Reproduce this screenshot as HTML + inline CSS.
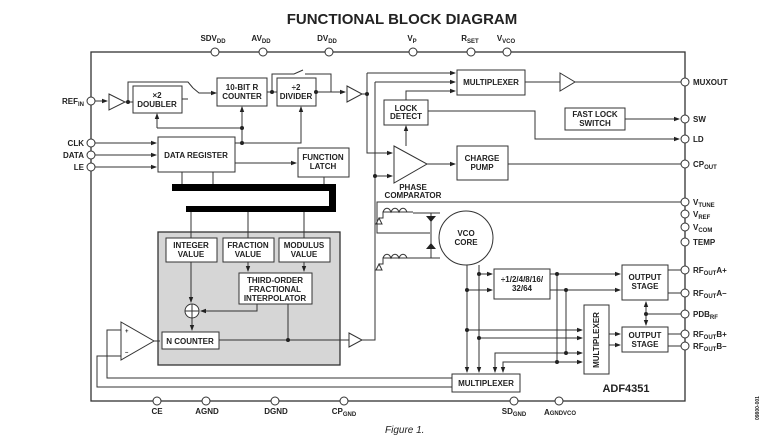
<!DOCTYPE html>
<html><head><meta charset="utf-8"><style>
body{margin:0;background:#fff;width:764px;height:439px;overflow:hidden}
text{font-family:"Liberation Sans",sans-serif;font-weight:bold;font-size:8px;fill:#222}
</style></head><body>
<svg width="764" height="439" viewBox="0 0 764 439" xmlns="http://www.w3.org/2000/svg">
<defs><marker id="a" markerWidth="6" markerHeight="6" refX="5" refY="3" orient="auto"><path d="M0,0.8 L6,3 L0,5.2z" fill="#222"/></marker></defs>
<text x="402" y="24" text-anchor="middle" style="font-size:15px">FUNCTIONAL BLOCK DIAGRAM</text>
<g stroke="#333" stroke-width="1.3" fill="none">
<rect x="91" y="52" width="594" height="349"/>
<rect x="158" y="232" width="182" height="133" fill="#d6d6d6"/>
</g>
<g fill="#000"><rect x="172" y="184" width="164" height="7"/><rect x="329" y="184" width="7" height="28"/><rect x="186" y="206" width="150" height="6"/></g>
<g stroke="#333" stroke-width="1" fill="#fff">
<rect x="133" y="86" width="49" height="27"/>
<rect x="217" y="78" width="50" height="28"/>
<rect x="277" y="78" width="39" height="28"/>
<rect x="158" y="137" width="77" height="35"/>
<rect x="298" y="148" width="51" height="29"/>
<rect x="457" y="70" width="68" height="25"/>
<rect x="384" y="100" width="44" height="25"/>
<rect x="565" y="108" width="60" height="22"/>
<rect x="457" y="146" width="51" height="34"/>
<rect x="166" y="238" width="51" height="24"/>
<rect x="223" y="238" width="51" height="24"/>
<rect x="279" y="238" width="51" height="24"/>
<rect x="239" y="273" width="73" height="31"/>
<rect x="162" y="332" width="57" height="17"/>
<rect x="494" y="269" width="56" height="30"/>
<rect x="622" y="265" width="46" height="35"/>
<rect x="622" y="327" width="46" height="25"/>
<rect x="584" y="305" width="25" height="69"/>
<rect x="452" y="374" width="68" height="18"/>
<circle cx="466" cy="238" r="27"/>
<circle cx="192" cy="311" r="7"/>
<path d="M109,94 L125,102 L109,110z"/>
<path d="M347,86 L362,94 L347,102z"/>
<path d="M560,73 L575,82 L560,91z"/>
<path d="M394,146 L427,164 L394,183z"/>
<path d="M121,322 L154,341 L121,360z"/>
<path d="M349,333 L362,340 L349,347z"/>
</g>
<g stroke="#333" stroke-width="1" fill="none">
<path d="M192,304v14M185,311h14"/>
<path d="M95,101h12" marker-end="url(#a)"/>
<path d="M125,102h8M128,102v-20h60l5,6M182,99h6"/>
<path d="M193,88l6,5h17" marker-end="url(#a)"/>
<path d="M267,92h10"/>
<path d="M272,92v-18h22l9,-4M305,74h26v18M316,92h29" marker-end="url(#a)"/>
<path d="M242,128v-21" marker-end="url(#a)"/><path d="M157,128h85M157,128v-14" marker-end="url(#a)"/>
<path d="M235,143h66v-36" marker-end="url(#a)"/><path d="M242,128v15"/>
<path d="M95,143h61" marker-end="url(#a)"/><path d="M95,155h61" marker-end="url(#a)"/><path d="M95,167h61" marker-end="url(#a)"/>
<path d="M235,163h61" marker-end="url(#a)"/>
<path d="M182,172v12M213,172v12M324,177v7M191,212v26M248,212v26M304,212v26"/>
<path d="M362,94h5M367,73h88" marker-end="url(#a)"/><path d="M367,73v80h25" marker-end="url(#a)"/>
<path d="M375,82h80" marker-end="url(#a)"/><path d="M406,100v-9h49" marker-end="url(#a)"/>
<path d="M525,82h35M575,82h106"/>
<path d="M406,146v-20" marker-end="url(#a)"/>
<path d="M428,111h107v28h144" marker-end="url(#a)"/>
<path d="M625,119h54" marker-end="url(#a)"/>
<path d="M427,164h28" marker-end="url(#a)"/><path d="M508,164h173"/>
<path d="M375,82v258h-13M375,176h17" marker-end="url(#a)"/>
<path d="M219,340h130"/>
<path d="M154,341h6"/>
<path d="M191,262v40" marker-end="url(#a)"/><path d="M192,318v12" marker-end="url(#a)"/>
<path d="M248,262v9" marker-end="url(#a)"/><path d="M304,262v9" marker-end="url(#a)"/>
<path d="M257,304v7h-56" marker-end="url(#a)"/><path d="M288,304v36"/>
<path d="M452,378h-345v-48h14M452,387h-355v-31h24"/>
<path d="M681,202h-304v31h53"/>
<path d="M379,218h4v-6h30M379,218l3,6h-6z M383,212c2,-5 6,-5 8,0c2,-5 6,-5 8,0c2,-5 6,-5 8,0"/>
<path d="M413,213h27M379,264h4v-6h30M379,264l3,6h-6z M383,258c2,-5 6,-5 8,0c2,-5 6,-5 8,0c2,-5 6,-5 8,0M413,258h27"/>
<path d="M431,213v45"/>
<path d="M467,265v107" marker-end="url(#a)"/><path d="M479,265v107" marker-end="url(#a)"/>
<path d="M479,274h13" marker-end="url(#a)"/><path d="M467,290h25" marker-end="url(#a)"/>
<path d="M550,274h70" marker-end="url(#a)"/><path d="M550,290h70" marker-end="url(#a)"/>
<path d="M557,274v88M566,290v63"/>
<path d="M467,330h115" marker-end="url(#a)"/><path d="M479,338h103" marker-end="url(#a)"/>
<path d="M566,353h16" marker-end="url(#a)"/><path d="M557,362h25" marker-end="url(#a)"/>
<path d="M566,353h-71v19" marker-end="url(#a)"/><path d="M557,362h-54v10" marker-end="url(#a)"/>
<path d="M609,334h11" marker-end="url(#a)"/><path d="M609,345h11" marker-end="url(#a)"/>
<path d="M668,270h13M668,293h13M668,334h13M668,346h13M681,314h-35"/>
<path d="M646,314v11" marker-end="url(#a)"/><path d="M646,314v-12" marker-end="url(#a)"/>
</g>
<g fill="#222"><path d="M426,216h10l-5,6z"/><path d="M426,249h10l-5,-6z"/>
<circle cx="128" cy="102" r="2"/><circle cx="272" cy="92" r="2"/><circle cx="316" cy="92" r="2"/><circle cx="242" cy="128" r="2"/><circle cx="242" cy="143" r="2"/><circle cx="367" cy="94" r="2"/><circle cx="375" cy="176" r="2"/><circle cx="288" cy="340" r="2"/>
<circle cx="467" cy="290" r="2"/><circle cx="479" cy="274" r="2"/><circle cx="467" cy="330" r="2"/><circle cx="479" cy="338" r="2"/><circle cx="557" cy="274" r="2"/><circle cx="566" cy="290" r="2"/><circle cx="566" cy="353" r="2"/><circle cx="557" cy="362" r="2"/><circle cx="646" cy="314" r="2"/></g>
<g stroke="#333" stroke-width="1" fill="#fff">
<circle cx="215" cy="52" r="4"/><circle cx="263" cy="52" r="4"/><circle cx="329" cy="52" r="4"/><circle cx="413" cy="52" r="4"/><circle cx="471" cy="52" r="4"/><circle cx="507" cy="52" r="4"/>
<circle cx="91" cy="101" r="4"/><circle cx="91" cy="143" r="4"/><circle cx="91" cy="155" r="4"/><circle cx="91" cy="167" r="4"/>
<circle cx="685" cy="82" r="4"/><circle cx="685" cy="119" r="4"/><circle cx="685" cy="139" r="4"/><circle cx="685" cy="164" r="4"/><circle cx="685" cy="202" r="4"/><circle cx="685" cy="214" r="4"/><circle cx="685" cy="227" r="4"/><circle cx="685" cy="242" r="4"/><circle cx="685" cy="270" r="4"/><circle cx="685" cy="293" r="4"/><circle cx="685" cy="314" r="4"/><circle cx="685" cy="334" r="4"/><circle cx="685" cy="346" r="4"/>
<circle cx="157" cy="401" r="4"/><circle cx="206" cy="401" r="4"/><circle cx="275" cy="401" r="4"/><circle cx="344" cy="401" r="4"/><circle cx="514" cy="401" r="4"/><circle cx="559" cy="401" r="4"/>
</g>
<text x="125" y="333" style="font-size:6px">+</text><text x="125" y="354" style="font-size:6px">–</text>
<g text-anchor="middle">
<text x="157" y="98">×2</text><text x="157" y="107">DOUBLER</text>
<text x="242" y="90">10-BIT R</text><text x="242" y="99">COUNTER</text>
<text x="296" y="90">÷2</text><text x="296" y="99">DIVIDER</text>
<text x="196" y="158">DATA REGISTER</text>
<text x="323" y="160">FUNCTION</text><text x="323" y="169">LATCH</text>
<text x="491" y="85">MULTIPLEXER</text>
<text x="406" y="111">LOCK</text><text x="406" y="119">DETECT</text>
<text x="595" y="117">FAST LOCK</text><text x="595" y="126">SWITCH</text>
<text x="482" y="161">CHARGE</text><text x="482" y="170">PUMP</text>
<text x="413" y="190">PHASE</text><text x="413" y="198">COMPARATOR</text>
<text x="466" y="236">VCO</text><text x="466" y="245">CORE</text>
<text x="191" y="248">INTEGER</text><text x="191" y="257">VALUE</text>
<text x="248" y="248">FRACTION</text><text x="248" y="257">VALUE</text>
<text x="304" y="248">MODULUS</text><text x="304" y="257">VALUE</text>
<text x="275" y="283">THIRD-ORDER</text><text x="275" y="292">FRACTIONAL</text><text x="275" y="301">INTERPOLATOR</text>
<text x="190" y="344">N COUNTER</text>
<text x="522" y="282">÷1/2/4/8/16/</text><text x="522" y="291">32/64</text>
<text x="645" y="280">OUTPUT</text><text x="645" y="289">STAGE</text>
<text x="645" y="338">OUTPUT</text><text x="645" y="347">STAGE</text>
<text x="486" y="386">MULTIPLEXER</text>
<text transform="translate(599,340) rotate(-90)">MULTIPLEXER</text>
<text x="626" y="392" style="font-size:11px">ADF4351</text>
<text x="213" y="41">SDV<tspan font-size="6" dy="2">DD</tspan></text>
<text x="261" y="41">AV<tspan font-size="6" dy="2">DD</tspan></text>
<text x="327" y="41">DV<tspan font-size="6" dy="2">DD</tspan></text>
<text x="412" y="41">V<tspan font-size="6" dy="2">P</tspan></text>
<text x="470" y="41">R<tspan font-size="6" dy="2">SET</tspan></text>
<text x="506" y="41">V<tspan font-size="6" dy="2">VCO</tspan></text>
<text x="157" y="414">CE</text><text x="207" y="414">AGND</text><text x="276" y="414">DGND</text>
<text x="344" y="414">CP<tspan font-size="6" dy="2">GND</tspan></text>
<text x="514" y="414">SD<tspan font-size="6" dy="2">GND</tspan></text>
<text x="560" y="415">A<tspan font-size="6" dy="0">GNDVCO</tspan></text>
</g>
<g text-anchor="end">
<text x="84" y="104">REF<tspan font-size="6" dy="2">IN</tspan></text>
<text x="84" y="146">CLK</text><text x="84" y="158">DATA</text><text x="84" y="170">LE</text>
</g>
<g>
<text x="693" y="85">MUXOUT</text><text x="693" y="122">SW</text><text x="693" y="142">LD</text>
<text x="693" y="167">CP<tspan font-size="6" dy="2">OUT</tspan></text>
<text x="693" y="205">V<tspan font-size="6" dy="2">TUNE</tspan></text>
<text x="693" y="217">V<tspan font-size="6" dy="2">REF</tspan></text>
<text x="693" y="230">V<tspan font-size="6" dy="2">COM</tspan></text>
<text x="693" y="245">TEMP</text>
<text x="693" y="273">RF<tspan font-size="6" dy="2">OUT</tspan><tspan dy="-2">A+</tspan></text>
<text x="693" y="296">RF<tspan font-size="6" dy="2">OUT</tspan><tspan dy="-2">A–</tspan></text>
<text x="693" y="317">PDB<tspan font-size="6" dy="2">RF</tspan></text>
<text x="693" y="337">RF<tspan font-size="6" dy="2">OUT</tspan><tspan dy="-2">B+</tspan></text>
<text x="693" y="349">RF<tspan font-size="6" dy="2">OUT</tspan><tspan dy="-2">B–</tspan></text>
</g>
<text transform="translate(759,420) rotate(-90)" style="font-size:5px">09800-001</text>
<text x="385" y="433" style="font-weight:normal;font-style:italic;font-size:10px">Figure 1.</text>
</svg>
</body></html>
